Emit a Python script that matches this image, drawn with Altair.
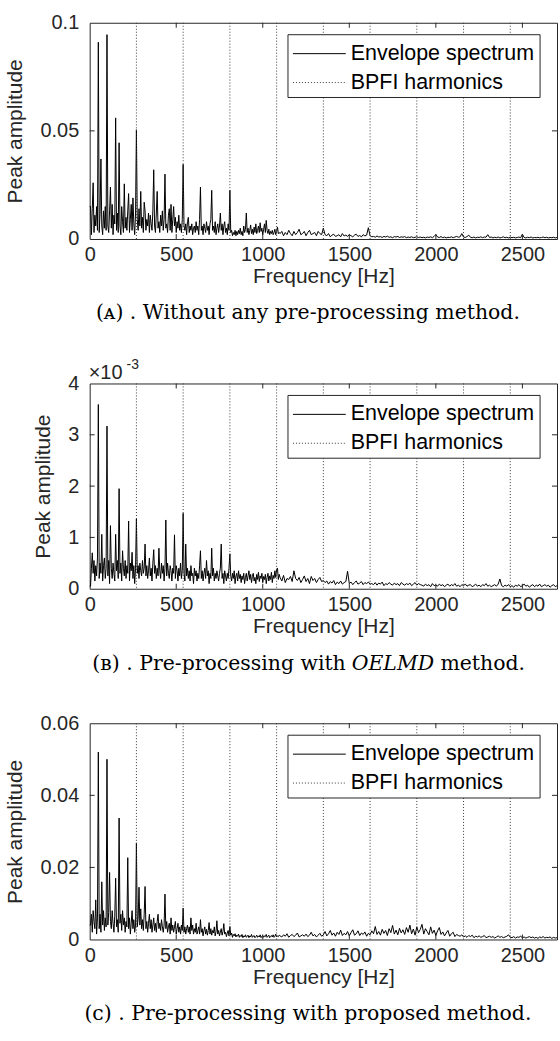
import altair as alt
import pandas as pd

SANS = "Liberation Sans"
SERIF = "DejaVu Serif"
AX = "#262626"

# ---------------- axes / harmonics ----------------
X_MAX = 2700
X_TICKS = [0, 500, 1000, 1500, 2000, 2500]
BPFI_HARMONICS = [270, 540, 810, 1080, 1350, 1620, 1890, 2160, 2430]

# frequency sampling of the stored spectra
LOW_START, LOW_STEP = 0, 5        # 0 ... 1095 Hz
HIGH_START, HIGH_STEP = 1100, 10  # 1100 ... 2700 Hz

# ---------------- (A) no pre-processing, values x 1e-4 ----------------
A_SCALE = 1e-4
A_LOW = [150, 150, 20, 140, 260, 30, 110, 60, 150, 40,
         910, 30, 120, 370, 60, 20, 130, 50, 150, 40,
         945, 60, 30, 130, 240, 50, 160, 20, 110, 70,
         560, 40, 120, 30, 445, 60, 20, 150, 80, 30,
         255, 50, 100, 40, 130, 210, 30, 90, 160, 40,
         190, 70, 20, 120, 505, 90, 40, 140, 60, 220,
         50, 100, 30, 170, 130, 40, 90, 60, 120, 30,
         110, 70, 40, 130, 320, 60, 30, 120, 220, 50,
         80, 30, 110, 60, 130, 40, 90, 300, 50, 70,
         30, 110, 140, 40, 160, 30, 90, 150, 60, 100,
         30, 80, 50, 110, 40, 70, 30, 90, 345, 60,
         40, 70, 20, 80, 100, 30, 60, 40, 70, 20,
         50, 60, 30, 80, 40, 60, 20, 90, 240, 40,
         60, 20, 70, 50, 30, 80, 40, 60, 20, 70,
         90, 225, 40, 60, 30, 80, 20, 50, 70, 30,
         60, 120, 40, 70, 20, 60, 80, 30, 50, 20,
         70, 40, 225, 30, 40, 15, 30, 20, 40, 15,
         35, 20, 40, 25, 50, 20, 35, 15, 60, 30,
         45, 120, 30, 50, 20, 40, 65, 25, 45, 20,
         55, 30, 70, 25, 40, 60, 30, 75, 35, 50,
         20, 45, 70, 30, 86, 40, 25, 45, 20, 35,
         25, 40, 20, 30, 45, 20, 35, 55, 25, 30]
A_HIGH = [25, 35, 15, 30, 20, 40, 25, 15, 35, 20, 30, 45, 20, 25, 35, 15, 30, 40, 20, 25, 30, 15, 35, 25, 20,
          50,
          20, 15, 25, 10, 18, 22, 12, 15, 20, 10, 25, 14, 18, 12, 20, 15, 10, 18, 22, 12, 16, 10, 20, 14, 18,
          52,
          15, 10, 12, 8, 14, 9, 11, 7, 12, 9,
          13, 8, 10, 6, 11, 9, 12, 7, 10, 8,
          11, 6, 9, 7, 10, 6, 8, 10, 7, 9,
          6, 8, 5, 9, 7, 10, 6, 12, 20, 9,
          7, 11, 6, 9, 5, 8, 7, 10, 6, 9,
          12, 8, 10, 25, 9, 7, 11, 18, 8, 6,
          9, 5, 8, 7, 10, 6, 9, 8, 20, 7,
          9, 5, 8, 6, 9, 5, 7, 10, 6, 8,
          5, 9, 6, 8, 5, 7, 9, 6, 22, 7,
          5, 8, 6, 9, 5, 7, 6, 8, 5, 7,
          9, 6, 8, 5, 7, 6, 8, 5, 7]

# ---------------- (B) OELMD, values x 1e-5 ----------------
B_SCALE = 1e-5
B_LOW = [5, 5, 40, 70, 30, 55, 15, 45, 25, 60,
         359, 20, 50, 30, 106, 15, 45, 60, 20, 40,
         317, 25, 55, 10, 123, 40, 20, 50, 30, 15,
         106, 35, 55, 20, 195, 30, 50, 15, 74, 40,
         25, 55, 20, 45, 30, 132, 15, 50, 35, 71,
         20, 45, 10, 40, 136, 30, 45, 20, 50, 35,
         25, 55, 30, 40, 87, 25, 45, 20, 35, 60,
         25, 40, 15, 50, 76, 30, 45, 20, 40, 25,
         79, 35, 20, 50, 30, 45, 15, 40, 134, 25,
         50, 30, 20, 45, 35, 15, 40, 30, 105, 20,
         45, 35, 15, 40, 25, 50, 20, 35, 147, 30,
         15, 87, 25, 40, 20, 35, 15, 45, 25, 30,
         10, 40, 25, 35, 15, 30, 20, 45, 74, 20,
         35, 15, 30, 40, 20, 55, 25, 35, 10, 30,
         20, 79, 25, 40, 15, 30, 20, 35, 25, 15,
         30, 40, 87, 20, 30, 10, 35, 25, 15, 30,
         20, 40, 68, 25, 15, 30, 20, 35, 10, 25,
         30, 15, 35, 20, 28, 12, 25, 18, 30, 10,
         22, 30, 15, 25, 35, 18, 28, 12, 24, 30,
         15, 22, 10, 28, 18, 32, 14, 25, 20, 30,
         12, 24, 18, 28, 10, 22, 30, 15, 25, 18,
         32, 12, 26, 20, 35, 22, 38, 40, 18, 28]
B_HIGH = [22, 15, 26, 12, 20, 18, 24, 14, 35, 20, 16, 22, 12, 18, 25, 14, 20, 10, 24, 16, 20, 12, 18, 22, 14, 16,
          12, 15, 9, 14, 11, 16, 8, 13, 10, 15, 9, 12, 14, 34, 10, 13, 8, 12, 15, 9, 11, 14, 8, 12, 10, 13, 9,
          10, 8, 12, 7, 11, 9, 13, 6, 10, 8, 12, 9, 7, 11, 8, 10, 6, 12, 9, 7, 10, 8, 11, 6, 9, 12, 7, 10, 8,
          7, 5, 9, 6, 8, 4, 10, 6, 7, 5,
          9, 6, 8, 4, 7, 9, 5, 8, 6, 10,
          5, 7, 4, 8, 6, 9, 5, 7, 8, 4,
          6, 9, 5, 7, 4, 8, 6, 10, 5, 7,
          4, 6, 8, 5, 9, 19, 6, 4, 7, 5,
          8, 4, 6, 3, 7, 5, 8, 4, 6, 9,
          5, 7, 3, 6, 8, 4, 7, 5, 9, 4,
          6, 8, 5, 7, 3, 6, 8, 4, 6]

# ---------------- (C) proposed method, values x 1e-4 ----------------
C_SCALE = 1e-4
C_LOW = [40, 40, 70, 20, 80, 50, 30, 110, 15, 60,
         520, 30, 70, 20, 160, 40, 80, 25, 60, 35,
         500, 40, 75, 186, 50, 30, 80, 45, 20, 65,
         170, 35, 55, 20, 337, 45, 70, 25, 80, 40,
         60, 20, 50, 35, 227, 30, 60, 15, 45, 80,
         30, 55, 20, 40, 268, 35, 60, 145, 40, 85,
         30, 55, 25, 70, 147, 30, 50, 20, 45, 70,
         30, 55, 20, 40, 60, 25, 45, 20, 50, 70,
         30, 45, 25, 55, 35, 20, 40, 126, 30, 50,
         20, 35, 45, 15, 60, 25, 40, 20, 35, 50,
         15, 30, 45, 20, 35, 15, 40, 25, 87, 20,
         35, 15, 30, 40, 20, 35, 15, 60, 25, 40,
         15, 30, 20, 45, 15, 25, 35, 15, 55, 20,
         30, 10, 25, 35, 15, 28, 12, 25, 47, 15,
         30, 12, 25, 18, 35, 10, 22, 52, 15, 25,
         10, 20, 30, 12, 22, 44, 15, 20, 8, 18,
         25, 10, 36, 12, 18, 6, 14, 10, 16, 7,
         12, 9, 15, 6, 11, 8, 14, 5, 10, 7,
         13, 6, 9, 12, 5, 10, 7, 14, 6, 9,
         11, 5, 8, 12, 6, 10, 7, 13, 5, 9,
         11, 6, 10, 8, 14, 6, 9, 12, 5, 8,
         11, 7, 13, 6, 9, 15, 7, 10, 8, 12]
C_HIGH = [10, 7, 13, 9, 16, 6, 11, 14, 8, 12, 18, 7, 10, 13, 9, 15, 8, 12, 20, 10, 14, 7, 12, 17, 9, 13,
          22, 10, 16, 25, 12, 18, 9, 20, 14, 26, 11, 17, 13, 22, 10, 19, 27, 12, 16, 24, 11, 18, 14, 21, 9, 17,
          13, 24, 16, 36, 14, 22, 12, 28, 17, 25,
          11, 30, 19, 39, 15, 26, 13, 31, 18, 27,
          14, 33, 20, 40, 16, 29, 12, 35, 19, 28,
          42, 15, 30, 22, 13, 35, 17, 26, 11, 24,
          33, 14, 21, 10, 18, 25, 9, 16, 20, 8,
          14, 11,
          9, 13, 7, 10, 6, 11, 8, 12, 5, 9,
          7, 10, 6, 8, 11, 5, 7, 9, 6, 8,
          4, 7, 10, 6, 8, 5, 7, 9, 13, 6,
          5, 8, 4, 7, 6, 9, 5, 7, 4, 6,
          8, 5, 7, 4, 6, 3, 7, 5, 8, 4,
          6, 5, 7, 3, 6, 4, 5]

LEGEND_LABELS = ["Envelope spectrum", "BPFI harmonics"]
X_TITLE = "Frequency [Hz]"
Y_TITLE = "Peak amplitude"

W = 469
ONE = pd.DataFrame({"k": [0]})


def spectrum_frame(low, high, scale):
    f = [LOW_START + i * LOW_STEP for i in range(len(low))] + \
        [HIGH_START + j * HIGH_STEP for j in range(len(high))]
    a = [v * scale for v in low + high]
    return pd.DataFrame({"f": f, "a": a})


def text_layer(s, x, y, size, font=SANS, align="left", baseline="middle", style="normal", color="black"):
    return alt.Chart(ONE).mark_text(
        text=s, font=font, fontSize=size, align=align, baseline=baseline,
        fontStyle=style, color=color
    ).encode(x=alt.value(x), y=alt.value(y))


def panel(df, y_max, y_ticks, height, caption_layers, label_expr=None, extra=()):
    yaxis = dict(values=y_ticks, title=Y_TITLE, labelPadding=11, titlePadding=14)
    if label_expr:
        yaxis["labelExpr"] = label_expr
    else:
        yaxis["format"] = "~g"
    xs = alt.Scale(domain=[0, X_MAX], nice=False, zero=False)
    ys = alt.Scale(domain=[0, y_max], nice=False)
    xa = alt.Axis(values=X_TICKS, format="d", title=X_TITLE, labelPadding=6, titlePadding=1)
    ya = alt.Axis(**yaxis)

    def X(field):
        return alt.X(field, type="quantitative", scale=xs, axis=xa)

    def Y(field):
        return alt.Y(field, type="quantitative", scale=ys, axis=ya)

    line = alt.Chart(df).mark_line(color="black", strokeWidth=1).encode(x=X("f"), y=Y("a"))
    harm = alt.Chart(pd.DataFrame({"h": BPFI_HARMONICS})).mark_rule(
        color="#3a3a3a", strokeDash=[1, 2], strokeWidth=1
    ).encode(x=X("h"))

    xt = pd.DataFrame({"t": X_TICKS[1:]})
    yt = pd.DataFrame({"t": y_ticks[1:-1]})
    tk = dict(color=AX, strokeWidth=1)
    ticks = [
        alt.Chart(xt).mark_rule(**tk).encode(x=X("t"), y=alt.value(0), y2=alt.value(5)),
        alt.Chart(xt).mark_rule(**tk).encode(x=X("t"), y=alt.value(height), y2=alt.value(height - 5)),
        alt.Chart(yt).mark_rule(**tk).encode(y=Y("t"), x=alt.value(0), x2=alt.value(5)),
        alt.Chart(yt).mark_rule(**tk).encode(y=Y("t"), x=alt.value(W), x2=alt.value(W - 5)),
    ]
    legend = [
        alt.Chart(ONE).mark_rect(fill="white", stroke=AX, strokeWidth=1).encode(
            x=alt.value(199), x2=alt.value(452), y=alt.value(12), y2=alt.value(75)),
        alt.Chart(ONE).mark_rule(color="black", strokeWidth=1).encode(
            x=alt.value(204), x2=alt.value(257), y=alt.value(31)),
        alt.Chart(ONE).mark_rule(color="#3a3a3a", strokeWidth=1, strokeDash=[1, 2]).encode(
            x=alt.value(204), x2=alt.value(257), y=alt.value(60)),
        text_layer(LEGEND_LABELS[0], 262, 31, 21.5),
        text_layer(LEGEND_LABELS[1], 262, 60, 21.5),
    ]
    layers = [line, harm] + ticks + legend + list(caption_layers) + list(extra)
    return alt.layer(*layers).properties(width=W, height=height)


H_A, H_B, H_C = 217, 206, 217
CAP_SIZE = 20.5

cap_a = [text_layer("(\u1d00) . Without any pre-processing method.", 219, H_A + 74, CAP_SIZE, font=SERIF, align="center")]
cap_b = [
    text_layer("(\u0299) . Pre-processing with", 257, H_B + 76, CAP_SIZE, font=SERIF, align="right"),
    text_layer("OELMD", 263, H_B + 76, CAP_SIZE, font=SERIF, style="italic"),
    text_layer("method.", 352, H_B + 76, CAP_SIZE, font=SERIF),
]
cap_c = [text_layer("(\u1d04) . Pre-processing with proposed method.", 219, H_C + 75, CAP_SIZE, font=SERIF, align="center")]

exp_b = [
    text_layer("\u00d710", -1, -4, 20, baseline="alphabetic", color=AX),
    text_layer("-3", 37, -15, 14, baseline="alphabetic", color=AX),
]

pa = panel(spectrum_frame(A_LOW, A_HIGH, A_SCALE), 0.1, [0, 0.05, 0.1], H_A, cap_a)
pb = panel(spectrum_frame(B_LOW, B_HIGH, B_SCALE), 0.004, [0, 0.001, 0.002, 0.003, 0.004], H_B, cap_b,
           label_expr="format(datum.value * 1000, '.0f')", extra=exp_b)
pc = panel(spectrum_frame(C_LOW, C_HIGH, C_SCALE), 0.06, [0, 0.02, 0.04, 0.06], H_C, cap_c)

chart = alt.vconcat(
    pa,
    alt.vconcat(pb, pc, spacing=135, bounds="flush"),
    spacing=145, bounds="flush",
).properties(
    padding={"left": 4, "top": 10, "right": 0, "bottom": 4},
    background="white",
).configure_view(
    stroke=AX, strokeWidth=1
).configure_axis(
    labelFont=SANS, labelFontSize=20, labelColor=AX,
    titleFont=SANS, titleFontSize=21, titleFontWeight="normal", titleColor=AX,
    ticks=False, tickSize=0, domain=False, grid=False,
    labelFlush=False, labelOverlap=False,
)

chart.save("out.html", embed_options={"renderer": "svg", "actions": False})
